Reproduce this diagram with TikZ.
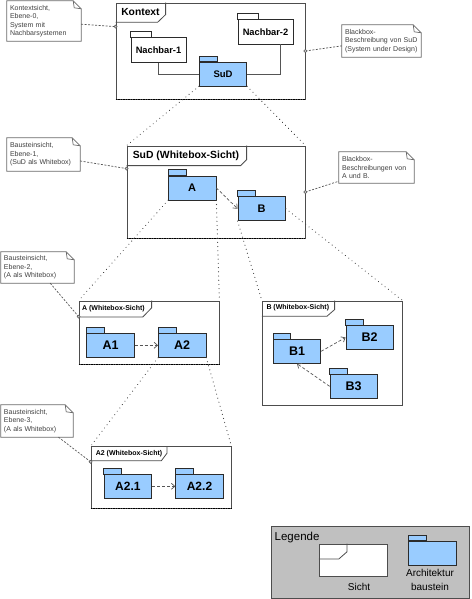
\documentclass[tikz,border=0pt]{standalone}
\usepackage{fontspec}
\setmainfont{Liberation Sans}
\usetikzlibrary{arrows.meta,calc}
\definecolor{pkgblue}{HTML}{99CCFF}
\definecolor{legendgray}{HTML}{C0C0C0}
\definecolor{pkgline}{HTML}{2B2B2B}
\definecolor{frameline}{HTML}{4D4D4D}
\definecolor{noteline}{HTML}{6A6A6A}
\definecolor{notetext}{HTML}{404040}
\definecolor{connline}{HTML}{555555}
\definecolor{dotline}{HTML}{444444}
\newcommand\fsz[1]{\fontsize{#1}{#1}\selectfont}
\newcommand\fszb[2]{\fontsize{#1}{#2}\selectfont}
\newcommand\dogear[1]{%
  \draw[notebord] (#1.north west) -- ($(#1.north east)+(-8,0)$) -- ($(#1.north east)+(0,8)$) -- (#1.south east) -- (#1.south west) -- cycle;
  \draw[notebord] ($(#1.north east)+(-8,0)$) -- ($(#1.north east)+(-7,7)$) -- ($(#1.north east)+(0,8)$);}
\newcommand\ptab[4]{\draw[pkgline, line width=0.75pt, fill=#4] (#1.north west) rectangle ++(#2,-#3);}
\begin{document}
\begin{tikzpicture}[x=1pt,y=-1pt,
  pkg/.style={draw=pkgline, line width=0.75pt, fill=pkgblue, minimum width=47.5pt, minimum height=24pt, inner sep=0pt, font=\bfseries\fsz{12.5}},
  nbpkg/.style={pkg, fill=white, minimum width=55pt, minimum height=24.5pt, font=\bfseries\fsz{9.3}},
  frame/.style={draw=frameline, line width=0.8pt, inner sep=0pt},
  framebot/.style={black, line width=1.2pt, dash pattern=on 1.6pt off 0.9pt},
  ftab/.style={draw=frameline, line width=0.8pt},
  ftitle/.style={anchor=west, inner sep=0pt, font=\bfseries\fsz{7}},
  note/.style={inner xsep=3pt, inner ysep=0pt, align=left, text=notetext, font=\fszb{7}{8.5}},
  notebord/.style={draw=noteline, line width=0.7pt},
  noteconn/.style={draw=connline, line width=0.7pt, dash pattern=on 2pt off 1.5pt},
  dot/.style={draw=connline, fill=gray!40, line width=0.5pt},
  spread/.style={draw=dotline, line width=1.15pt, line cap=round, dash pattern=on 0.01pt off 4.2pt},
  dep/.style={draw=connline, line width=0.7pt, dash pattern=on 3pt off 2pt, -{Straight Barb[length=3.5pt,width=6pt]}},
  assoc/.style={draw=connline, line width=0.7pt}
]
\useasboundingbox (0,0) rectangle (471,599);
\fill[white] (0,0) rectangle (471,599);

% ---------- Kontext ----------
\node[frame, minimum width=189pt, minimum height=96pt] (fK) at (210.5,51) {};
\draw[framebot] (fK.south west) -- (fK.south east);
\draw[ftab] ($(fK.north west)+(50,0)$) -- ++(0,12) -- ++(-8,7.7) -- ($(fK.north west)+(0,19.7)$);
\node[ftitle, font=\bfseries\fsz{10.3}] (tK) at ($(fK.north west)+(5.5,9.5)$) {Kontext};
\coordinate (dK1) at ($(fK.north west)+(0,24)$);
\coordinate (dK2) at (fK.east);

\node[nbpkg] (nb1) at (158.5,50) {Nachbar-1};
\ptab{nb1}{20.5}{5.5}{white}
\node[nbpkg] (nb2) at (265.5,31.7) {Nachbar-2};
\ptab{nb2}{20.5}{5.5}{white}
\node[pkg, font=\bfseries\fsz{9.5}] (sud) at (223,74) {SuD};
\ptab{sud}{18}{5.5}{pkgblue}
\draw[assoc] (nb1.south) |- (sud.west);
\draw[assoc] ([xshift=15pt]nb2.south) |- (sud.east);

% ---------- SuD Whitebox ----------
\node[frame, minimum width=178pt, minimum height=92pt] (fS) at (216,192) {};
\draw[framebot] (fS.south west) -- (fS.south east);
\draw[ftab] ($(fS.north west)+(120,0)$) -- ++(0,14) -- ++(-6,6) -- ($(fS.north west)+(0,20)$);
\node[ftitle, font=\bfseries\fsz{10.4}] (tS) at ($(fS.north west)+(6,10)$) {SuD (Whitebox-Sicht)};
\coordinate (dS1) at ($(fS.north west)+(0,23)$);
\coordinate (dS2) at (fS.east);

\node[pkg, font=\bfseries\fsz{11}] (A) at (192.2,187.9) {A};
\ptab{A}{18.4}{5.7}{pkgblue}
\node[pkg, font=\bfseries\fsz{11}] (B) at (261.7,208.7) {B};
\ptab{B}{18}{5.7}{pkgblue}
\draw[dep] (A.east) -- (B.west);

% ---------- A Whitebox ----------
\node[frame, minimum width=140pt, minimum height=63pt] (fA) at (149,332.5) {};
\draw[framebot] (fA.south west) -- (fA.south east);
\draw[ftab] ($(fA.north west)+(73,0)$) -- ++(0,7.3) -- ++(-8.7,9) -- ($(fA.north west)+(0,16.3)$);
\node[ftitle] (tA) at ($(fA.north west)+(3.3,7.7)$) {A (Whitebox-Sicht)};
\coordinate (dA) at ($(fA.north west)+(0,16)$);

\node[pkg] (A1) at (110.5,345.3) {A1};
\ptab{A1}{17.6}{6}{pkgblue}
\node[pkg] (A2) at (182.2,345.3) {A2};
\ptab{A2}{18.4}{6}{pkgblue}
\draw[dep] (A1.east) -- (A2.west);

% ---------- B Whitebox ----------
\node[frame, minimum width=140pt, minimum height=104.7pt] (fB) at (332.3,353.35) {};
\draw[ftab] ($(fB.north west)+(72.7,0)$) -- ++(0,9) -- ++(-7.7,6.7) -- ($(fB.north west)+(0,15.7)$);
\node[ftitle] (tB) at ($(fB.north west)+(4.4,7.3)$) {B (Whitebox-Sicht)};

\node[pkg] (B1) at (297,351.3) {B1};
\ptab{B1}{17.7}{6}{pkgblue}
\node[pkg] (B2) at (369.7,337.5) {B2};
\ptab{B2}{18}{5.7}{pkgblue}
\node[pkg] (B3) at (353.7,386.3) {B3};
\ptab{B3}{17.3}{5.3}{pkgblue}
\draw[dep] (B1.east) -- (B2.west);
\draw[dep] (B3.west) -- (B1.south);

% ---------- A2 Whitebox ----------
\node[frame, minimum width=140pt, minimum height=61.3pt] (fA2) at (161,477.35) {};
\draw[framebot] (fA2.south west) -- (fA2.south east);
\draw[ftab] ($(fA2.north west)+(76.3,0)$) -- ++(0,7) -- ++(-5.6,7.5) -- ($(fA2.north west)+(0,14.5)$);
\node[ftitle] (tA2) at ($(fA2.north west)+(5,7.8)$) {A2 (Whitebox-Sicht)};
\coordinate (dA2) at ($(fA2.north west)+(0,15.5)$);

\node[pkg, font=\bfseries\fsz{12}] (A21) at (127.9,486.3) {A2.1};
\ptab{A21}{17.7}{6}{pkgblue}
\node[pkg, font=\bfseries\fsz{12}] (A22) at (199.5,486.3) {A2.2};
\ptab{A22}{18.3}{6}{pkgblue}
\draw[dep] (A21.east) -- (A22.west);

% ---------- spreading dotted lines ----------
\draw[spread] (sud.south west) -- (fS.north west);
\draw[spread] (sud.south east) -- (fS.north east);
\draw[spread] (A.south west) -- (fA.north west);
\draw[spread] (A.south east) -- (fA.north east);
\draw[spread] (B.south west) -- (fB.north west);
\draw[spread] (B.east) -- (fB.north east);
\draw[spread] (A2.south west) -- (fA2.north west);
\draw[spread] (A2.south east) -- (fA2.north east);

% ---------- notes ----------
\node[note, text width=68pt, minimum width=74pt, minimum height=40pt] (n0) at (44,21)
  {\mbox{Kontextsicht,}\\\mbox{Ebene-0,}\\\mbox{System mit}\\\mbox{Nachbarsystemen}};
\dogear{n0}
\node[note, text width=73pt, minimum width=79pt, minimum height=32pt] (n1) at (381.5,41)
  {\mbox{Blackbox-}\\\mbox{Beschreibung von SuD}\\\mbox{(System under Design)}};
\dogear{n1}
\node[note, text width=67pt, minimum width=73pt, minimum height=33pt] (n2) at (43.5,154.5)
  {\mbox{Bausteinsicht,}\\\mbox{Ebene-1,}\\\mbox{(SuD als Whitebox)}};
\dogear{n2}
\node[note, text width=69pt, minimum width=75pt, minimum height=31pt] (n3) at (376.5,167.5)
  {\mbox{Blackbox-}\\\mbox{Beschreibungen von}\\\mbox{A und B.}};
\dogear{n3}
\node[note, text width=67pt, minimum width=73pt, minimum height=31pt] (n4) at (37.5,267.5)
  {\mbox{Bausteinsicht,}\\\mbox{Ebene-2,}\\\mbox{(A als Whitebox)}};
\dogear{n4}
\node[note, text width=66pt, minimum width=72pt, minimum height=32pt] (n5) at (37,421)
  {\mbox{Bausteinsicht,}\\\mbox{Ebene-3,}\\\mbox{(A als Whitebox)}};
\dogear{n5}

\draw[noteconn] (n0.-5) -- (dK1);
\draw[noteconn] (dK2) -- (n1.187);
\draw[noteconn] (n2.-10) -- (dS1);
\draw[noteconn] (dS2) -- (n3.200);
\draw[noteconn] (n4.-51) -- (dA);
\draw[noteconn] (n5.-37) -- (dA2);
\foreach \d in {dK1,dK2,dS1,dS2,dA,dA2} \draw[dot] (\d) circle (1.6pt);

% ---------- legend ----------
\node[draw=frameline, line width=0.8pt, fill=legendgray, minimum width=197.6pt, minimum height=71.6pt, inner sep=0pt] (leg) at (370.5,562.5) {};
\node[anchor=west, inner sep=0pt, font=\fsz{11.5}] (legT) at (274.5,537.5) {Legende};
\node[frame, fill=white, minimum width=68pt, minimum height=32pt] (legS) at (353.3,560) {};
\draw[ftab] ($(legS.north west)+(28,0)$) -- ++(0,8.3) -- ++(-8,7) -- ($(legS.north west)+(0,15.3)$);
\node[inner sep=0pt, font=\fsz{10}] (legSt) at (359,586.7) {Sicht};
\node[pkg] (legP) at (432.5,553) {};
\ptab{legP}{17.7}{5}{pkgblue}
\node[inner sep=0pt, align=center, font=\fszb{10}{13.4}] (legPt) at (430,580) {Architektur\\baustein};
\end{tikzpicture}
\end{document}
